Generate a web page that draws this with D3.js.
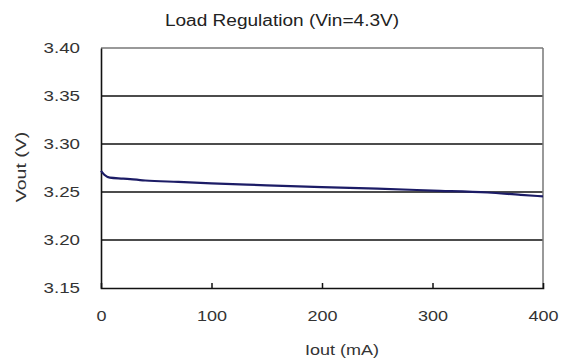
<!DOCTYPE html>
<html><head><meta charset="utf-8">
<script src="https://cdn.jsdelivr.net/npm/d3@7"></script>
<style>body{margin:0;background:#fff}svg{display:block}</style>
</head><body>
<script>
const iout = [0, 3, 8, 20, 40, 70, 100, 150, 200, 250, 300, 350, 380, 400];
const vout = [3.272, 3.268, 3.265, 3.264, 3.262, 3.2605, 3.259, 3.257, 3.255, 3.2535, 3.2515, 3.2495, 3.247, 3.2455];
const xTicks = [0, 100, 200, 300, 400];
const yTicks = [3.15, 3.20, 3.25, 3.30, 3.35, 3.40];
const title = "Load Regulation (Vin=4.3V)";
const xTitle = "Iout (mA)";
const yTitle = "Vout (V)";

const W = 566, H = 361;
const m = {l: 101, r: 23, t: 48, b: 73};
const svg = d3.select("body").append("svg").attr("width", W).attr("height", H);
const x = d3.scaleLinear().domain([0, 400]).range([m.l, W - m.r]);
const y = d3.scaleLinear().domain([3.15, 3.40]).range([H - m.b, m.t]);
const font = "Liberation Sans, Arial, sans-serif";

function stretch(sel, k) {
  sel.each(function () {
    const len = this.getComputedTextLength();
    d3.select(this).attr("textLength", len * k).attr("lengthAdjust", "spacingAndGlyphs");
  });
}

// gridlines
svg.append("g").selectAll("line").data(yTicks.filter(d => d > 3.15 && d < 3.40)).join("line")
  .attr("x1", x(0)).attr("x2", x(400)).attr("y1", d => y(d)).attr("y2", d => y(d))
  .attr("stroke", "#111").attr("stroke-width", 1.6);

// frame top/right (gray)
svg.append("line").attr("x1", x(0)).attr("x2", x(400)).attr("y1", y(3.40)).attr("y2", y(3.40)).attr("stroke", "#777").attr("stroke-width", 1.5);
svg.append("line").attr("x1", x(400)).attr("x2", x(400)).attr("y1", y(3.40)).attr("y2", y(3.15)).attr("stroke", "#777").attr("stroke-width", 1.5);

// axes
const xAxis = d3.axisBottom(x).tickValues(xTicks).tickSize(-5).tickPadding(22).tickFormat(d3.format("d"));
const gx = svg.append("g").attr("transform", `translate(0,${y(3.15)})`).call(xAxis);
gx.select(".domain").attr("stroke", "#111").attr("stroke-width", 1.6);
gx.selectAll(".tick line").attr("stroke", "#111").attr("stroke-width", 1.5)
  .attr("display", d => (d === 0 || d === 400) ? "none" : null);
gx.selectAll("text").attr("font-family", font).attr("font-size", 15).attr("fill", "#333").call(stretch, 1.2);

const yAxis = d3.axisLeft(y).tickValues(yTicks).tickSize(0).tickPadding(21).tickFormat(d3.format(".2f"));
const gy = svg.append("g").attr("transform", `translate(${x(0)},0)`).call(yAxis);
gy.select(".domain").attr("stroke", "#111").attr("stroke-width", 1.6);
gy.selectAll("text").attr("font-family", font).attr("font-size", 15).attr("fill", "#333").call(stretch, 1.25);

// line
svg.append("path").datum(iout.map((d, i) => [d, vout[i]]))
  .attr("d", d3.line().x(d => x(d[0])).y(d => y(d[1])).curve(d3.curveMonotoneX))
  .attr("fill", "none").attr("stroke", "#1c1c66").attr("stroke-width", 2.2);

// titles
svg.append("text").attr("x", 282).attr("y", 26).attr("text-anchor", "middle")
  .attr("font-family", font).attr("font-size", 16).attr("fill", "#222").text(title).call(stretch, 1.19);
svg.append("text").attr("x", 342).attr("y", 355).attr("text-anchor", "middle")
  .attr("font-family", font).attr("font-size", 15).attr("fill", "#333").text(xTitle).call(stretch, 1.2);
svg.append("text").attr("transform", `translate(26,167) rotate(-90)`).attr("text-anchor", "middle")
  .attr("font-family", font).attr("font-size", 15).attr("fill", "#333").text(yTitle).call(stretch, 1.3);
</script>
</body></html>
